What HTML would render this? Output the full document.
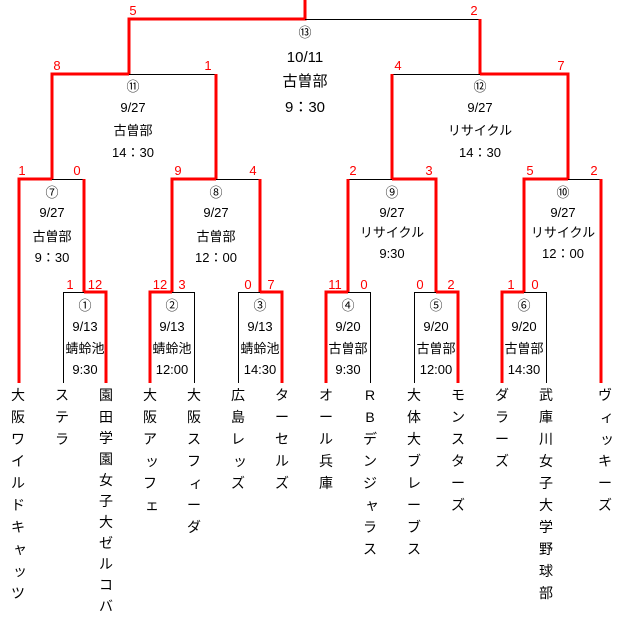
<!DOCTYPE html>
<html><head><meta charset="utf-8"><style>
html,body{margin:0;padding:0;background:#fff;}
svg{display:block;font-family:"Liberation Sans","Noto Sans CJK JP",sans-serif;}
.r{stroke:#f00;stroke-width:3;fill:none;}
.b{stroke:#000;stroke-width:1;fill:none;}
.s{fill:#f00;font-size:13px;text-anchor:middle;}
.t{fill:#000;font-size:13px;text-anchor:middle;}
.f{fill:#000;font-size:15px;text-anchor:middle;}
.n{fill:#000;font-size:14px;text-anchor:middle;}
</style></head><body>
<svg width="623" height="617" viewBox="0 0 623 617">
<!-- Final -->
<path class="r" d="M305,0V19H129V74"/>
<path class="b" d="M305,19.5H480"/>
<path class="r" d="M480,19V74"/>
<!-- Match 11 -->
<path class="r" d="M129,74H52V179"/>
<path class="b" d="M129,74.5H216"/>
<path class="r" d="M216,74V179"/>
<!-- Match 12 -->
<path class="b" d="M392,74.5H480"/>
<path class="r" d="M480,74H568V179"/>
<path class="r" d="M392,74V179"/>
<!-- Match 7 -->
<path class="r" d="M52,179H19V383"/>
<path class="b" d="M52,179.5H84"/>
<path class="r" d="M84,179V292"/>
<!-- Match 8 -->
<path class="r" d="M216,179H172V292"/>
<path class="b" d="M216,179.5H260"/>
<path class="r" d="M260,179V292"/>
<!-- Match 9 -->
<path class="b" d="M348,179.5H392"/>
<path class="r" d="M392,179H436V292"/>
<path class="r" d="M348,179V292"/>
<!-- Match 10 -->
<path class="r" d="M568,179H524V292"/>
<path class="b" d="M568,179.5H601"/>
<path class="r" d="M601,179V383"/>
<!-- Match 1 -->
<path class="b" d="M63.5,383V292.5H84"/>
<path class="r" d="M84,292H106V383"/>
<!-- Match 2 -->
<path class="r" d="M172,292H150V383"/>
<path class="b" d="M172,292.5H194.5V383"/>
<!-- Match 3 -->
<path class="b" d="M238.5,383V292.5H260"/>
<path class="r" d="M260,292H282V383"/>
<!-- Match 4 -->
<path class="r" d="M348,292H326V383"/>
<path class="b" d="M348,292.5H370.5V383"/>
<!-- Match 5 -->
<path class="b" d="M414.5,383V292.5H436"/>
<path class="r" d="M436,292H458V383"/>
<!-- Match 6 -->
<path class="r" d="M524,292H502V383"/>
<path class="b" d="M524,292.5H546.5V383"/>

<!-- scores -->
<text class="s" x="133" y="15">5</text><text class="s" x="474" y="15">2</text>
<text class="s" x="57" y="70">8</text><text class="s" x="208" y="70">1</text>
<text class="s" x="398" y="70">4</text><text class="s" x="561" y="70">7</text>
<text class="s" x="22" y="175">1</text><text class="s" x="77" y="175">0</text>
<text class="s" x="178" y="175">9</text><text class="s" x="253" y="175">4</text>
<text class="s" x="353" y="175">2</text><text class="s" x="429" y="175">3</text>
<text class="s" x="530" y="175">5</text><text class="s" x="594" y="175">2</text>
<text class="s" x="70" y="289">1</text><text class="s" x="95" y="289">12</text>
<text class="s" x="160" y="289">12</text><text class="s" x="182" y="289">3</text>
<text class="s" x="248" y="289">0</text><text class="s" x="271" y="289">7</text>
<text class="s" x="335" y="289">11</text><text class="s" x="364" y="289">0</text>
<text class="s" x="420" y="289">0</text><text class="s" x="451" y="289">2</text>
<text class="s" x="511" y="289">1</text><text class="s" x="535" y="289">0</text>

<!-- match info -->
<text class="t" x="305" y="37">⑬</text>
<text class="f" x="305" y="62">10/11</text>
<text class="f" x="305" y="86">古曽部</text>
<text class="f" x="305" y="112">9：30</text>

<text class="t" x="133" y="91">⑪</text><text class="t" x="133" y="112">9/27</text><text class="t" x="133" y="135">古曽部</text><text class="t" x="133" y="157">14：30</text>
<text class="t" x="480" y="91">⑫</text><text class="t" x="480" y="112">9/27</text><text class="t" x="480" y="135">リサイクル</text><text class="t" x="480" y="157">14：30</text>

<text class="t" x="52" y="197">⑦</text><text class="t" x="52" y="217">9/27</text><text class="t" x="52" y="241">古曽部</text><text class="t" x="52" y="262">9：30</text>
<text class="t" x="216" y="197">⑧</text><text class="t" x="216" y="217">9/27</text><text class="t" x="216" y="241">古曽部</text><text class="t" x="216" y="262">12：00</text>
<text class="t" x="392" y="197">⑨</text><text class="t" x="392" y="217">9/27</text><text class="t" x="392" y="237">リサイクル</text><text class="t" x="392" y="258">9:30</text>
<text class="t" x="563" y="197">⑩</text><text class="t" x="563" y="217">9/27</text><text class="t" x="563" y="237">リサイクル</text><text class="t" x="563" y="258">12：00</text>

<text class="t" x="85" y="310">①</text><text class="t" x="85" y="331">9/13</text><text class="t" x="85" y="353">蜻蛉池</text><text class="t" x="85" y="374">9:30</text>
<text class="t" x="172" y="310">②</text><text class="t" x="172" y="331">9/13</text><text class="t" x="172" y="353">蜻蛉池</text><text class="t" x="172" y="374">12:00</text>
<text class="t" x="260" y="310">③</text><text class="t" x="260" y="331">9/13</text><text class="t" x="260" y="353">蜻蛉池</text><text class="t" x="260" y="374">14:30</text>
<text class="t" x="348" y="310">④</text><text class="t" x="348" y="331">9/20</text><text class="t" x="348" y="353">古曽部</text><text class="t" x="348" y="374">9:30</text>
<text class="t" x="436" y="310">⑤</text><text class="t" x="436" y="331">9/20</text><text class="t" x="436" y="353">古曽部</text><text class="t" x="436" y="374">12:00</text>
<text class="t" x="524" y="310">⑥</text><text class="t" x="524" y="331">9/20</text><text class="t" x="524" y="353">古曽部</text><text class="t" x="524" y="374">14:30</text>

<!-- team names (vertical) -->
<g class="n">
<text class="n" x="18"><tspan x="18" y="400">大</tspan><tspan x="18" y="422">阪</tspan><tspan x="18" y="444">ワ</tspan><tspan x="18" y="466">イ</tspan><tspan x="18" y="488">ル</tspan><tspan x="18" y="510">ド</tspan><tspan x="18" y="532">キ</tspan><tspan x="20" y="554">ャ</tspan><tspan x="20" y="576">ッ</tspan><tspan x="18" y="598">ツ</tspan></text>
<text class="n"><tspan x="62" y="400">ス</tspan><tspan x="62" y="422">テ</tspan><tspan x="62" y="444">ラ</tspan></text>
<text class="n"><tspan x="106" y="400">園</tspan><tspan x="106" y="422">田</tspan><tspan x="106" y="443">学</tspan><tspan x="106" y="464">園</tspan><tspan x="106" y="485">女</tspan><tspan x="106" y="506">子</tspan><tspan x="106" y="527">大</tspan><tspan x="106" y="548">ゼ</tspan><tspan x="106" y="569">ル</tspan><tspan x="106" y="590">コ</tspan><tspan x="106" y="611">バ</tspan></text>
<text class="n"><tspan x="150" y="400">大</tspan><tspan x="150" y="422">阪</tspan><tspan x="150" y="444">ア</tspan><tspan x="152" y="466">ッ</tspan><tspan x="150" y="488">フ</tspan><tspan x="152" y="510">ェ</tspan></text>
<text class="n"><tspan x="194" y="400">大</tspan><tspan x="194" y="422">阪</tspan><tspan x="194" y="444">ス</tspan><tspan x="194" y="466">フ</tspan><tspan x="196" y="488">ィ</tspan><tspan x="194" y="510">ー</tspan><tspan x="194" y="532">ダ</tspan></text>
<text class="n"><tspan x="238" y="400">広</tspan><tspan x="238" y="422">島</tspan><tspan x="238" y="444">レ</tspan><tspan x="240" y="466">ッ</tspan><tspan x="238" y="488">ズ</tspan></text>
<text class="n"><tspan x="282" y="400">タ</tspan><tspan x="282" y="422">ー</tspan><tspan x="282" y="444">セ</tspan><tspan x="282" y="466">ル</tspan><tspan x="282" y="488">ズ</tspan></text>
<text class="n"><tspan x="326" y="400">オ</tspan><tspan x="326" y="422">ー</tspan><tspan x="326" y="444">ル</tspan><tspan x="326" y="466">兵</tspan><tspan x="326" y="488">庫</tspan></text>
<text class="n"><tspan x="370" y="400">R</tspan><tspan x="370" y="422">B</tspan><tspan x="370" y="444">デ</tspan><tspan x="370" y="466">ン</tspan><tspan x="370" y="488">ジ</tspan><tspan x="372" y="510">ャ</tspan><tspan x="370" y="532">ラ</tspan><tspan x="370" y="554">ス</tspan></text>
<text class="n"><tspan x="414" y="400">大</tspan><tspan x="414" y="422">体</tspan><tspan x="414" y="444">大</tspan><tspan x="414" y="466">ブ</tspan><tspan x="414" y="488">レ</tspan><tspan x="414" y="510">ー</tspan><tspan x="414" y="532">ブ</tspan><tspan x="414" y="554">ス</tspan></text>
<text class="n"><tspan x="458" y="400">モ</tspan><tspan x="458" y="422">ン</tspan><tspan x="458" y="444">ス</tspan><tspan x="458" y="466">タ</tspan><tspan x="458" y="488">ー</tspan><tspan x="458" y="510">ズ</tspan></text>
<text class="n"><tspan x="502" y="400">ダ</tspan><tspan x="502" y="422">ラ</tspan><tspan x="502" y="444">ー</tspan><tspan x="502" y="466">ズ</tspan></text>
<text class="n"><tspan x="546" y="400">武</tspan><tspan x="546" y="422">庫</tspan><tspan x="546" y="444">川</tspan><tspan x="546" y="466">女</tspan><tspan x="546" y="488">子</tspan><tspan x="546" y="510">大</tspan><tspan x="546" y="532">学</tspan><tspan x="546" y="554">野</tspan><tspan x="546" y="576">球</tspan><tspan x="546" y="598">部</tspan></text>
<text class="n"><tspan x="605" y="400">ヴ</tspan><tspan x="607" y="422">ィ</tspan><tspan x="607" y="444">ッ</tspan><tspan x="605" y="466">キ</tspan><tspan x="605" y="488">ー</tspan><tspan x="605" y="510">ズ</tspan></text>
</g>
</svg>
</body></html>
